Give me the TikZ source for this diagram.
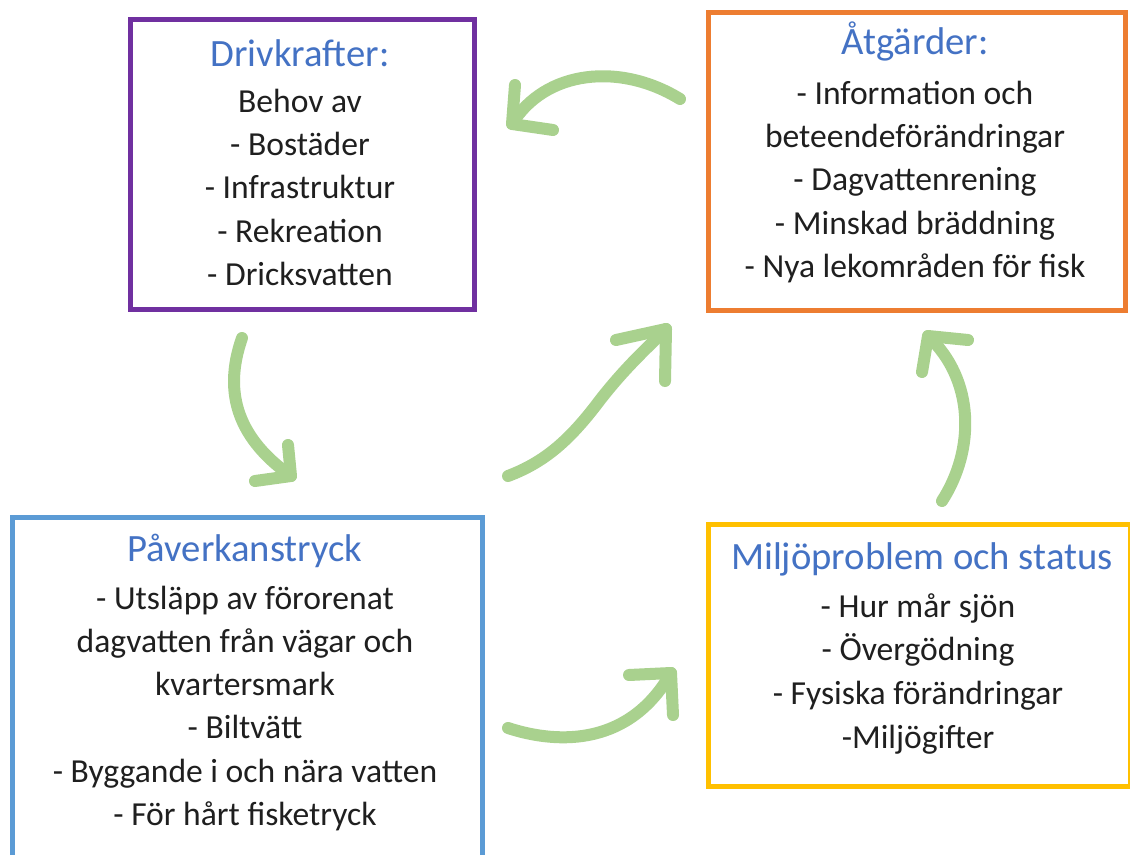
\documentclass[tikz,border=0pt]{standalone}
\usepackage{fontspec}
\setmainfont{Carlito}
\begin{document}
\begin{tikzpicture}[x=0.75pt,y=-0.75pt,
  box/.style={draw,line width=3.5pt,inner sep=0pt,anchor=north west},
  ttl/.style={font=\fontsize{29}{34}\selectfont,text=titleblue,inner sep=0pt,text height=0.7em,text depth=0.2em},
  txt/.style={font=\fontsize{25.2}{30}\selectfont,text=black!88,inner sep=0pt,text height=0.7em,text depth=0.2em},
  arr/.style={draw=arrowgreen,line width=9pt,line cap=round,line join=round}]
\definecolor{titleblue}{HTML}{4472C4}
\definecolor{arrowgreen}{HTML}{A9D18E}
\definecolor{bpurple}{HTML}{7030A0}
\definecolor{borange}{HTML}{ED7D31}
\definecolor{bblue}{HTML}{5B9BD5}
\definecolor{byellow}{HTML}{FFC000}
\useasboundingbox[fill=white] (0,0) rectangle (1130,855);
% boxes
\node[box,draw=bpurple,minimum width=344*0.75pt,minimum height=290*0.75pt] (drv) at (128,17) {};
\node[box,draw=borange,minimum width=417*0.75pt,minimum height=298*0.75pt] (atg) at (706,10) {};
\node[box,draw=bblue,minimum width=470*0.75pt,minimum height=340*0.75pt] (pav) at (10,515) {};
\node[box,draw=byellow,minimum width=422*0.75pt,minimum height=262*0.75pt] (mil) at (706,522) {};
% texts
\node[ttl] (drvT) at (300,63) {Drivkrafter:};
\foreach \t [count=\i] in {Behov av,- Bostäder,- Infrastruktur,- Rekreation,- Dricksvatten}
  \node[txt] (drv\i) at (300,{109+(\i-1)*43.3}) {\t};
\node[ttl] (atgT) at (915,51) {Åtgärder:};
\foreach \t [count=\i] in {- Information och,beteendeförändringar,- Dagvattenrening,- Minskad bräddning,- Nya lekområden för fisk}
  \node[txt] (atg\i) at (915,{101+(\i-1)*43.3}) {\t};
\node[ttl] (pavT) at (245,558) {Påverkanstryck};
\foreach \t [count=\i] in {- Utsläpp av förorenat,dagvatten från vägar och,kvartersmark,- Biltvätt,- Byggande i och nära vatten,- För hårt fisketryck}
  \node[txt] (pav\i) at (245,{606+(\i-1)*43.2}) {\t};
\node[ttl] (milT) at (922,566) {Miljöproblem och status};
\foreach \t [count=\i] in {- Hur mår sjön,- Övergödning,- Fysiska förändringar,-Miljögifter}
  \node[txt] (mil\i) at (918,{614+(\i-1)*43.6}) {\t};
% arrows
\coordinate (a1s) at (680,99); \coordinate (a1t) at (512,124);
\coordinate (a1w1) at (515,85); \coordinate (a1w2) at (553,130);
\draw[arr] (a1s) .. controls (620,62) and (545,70) .. (a1t);
\draw[arr] (a1w1) -- (a1t) -- (a1w2);
\coordinate (a2s) at (242,338); \coordinate (a2t) at (291,476);
\coordinate (a2w1) at (288,445); \coordinate (a2w2) at (255,481);
\draw[arr] (a2s) .. controls (222,395) and (240,440) .. (a2t);
\draw[arr] (a2w1) -- (a2t) -- (a2w2);
\coordinate (a3s) at (508,476); \coordinate (a3t) at (666,329);
\coordinate (a3w1) at (616,340); \coordinate (a3w2) at (665,381);
\draw[arr] (a3s) .. controls (545,462) and (570,440) .. (600,400) .. controls (625,368) and (645,350) .. (a3t);
\draw[arr] (a3w1) -- (a3t) -- (a3w2);
\coordinate (a4s) at (508,728); \coordinate (a4t) at (671,673);
\coordinate (a4w1) at (629,675); \coordinate (a4w2) at (673,715);
\draw[arr] (a4s) .. controls (560,745) and (630,745) .. (a4t);
\draw[arr] (a4w1) -- (a4t) -- (a4w2);
\coordinate (a5s) at (942,501); \coordinate (a5t) at (928,336);
\coordinate (a5w1) at (968,340); \coordinate (a5w2) at (922,372);
\draw[arr] (a5s) .. controls (975,450) and (975,380) .. (a5t);
\draw[arr] (a5w1) -- (a5t) -- (a5w2);
\end{tikzpicture}
\end{document}
